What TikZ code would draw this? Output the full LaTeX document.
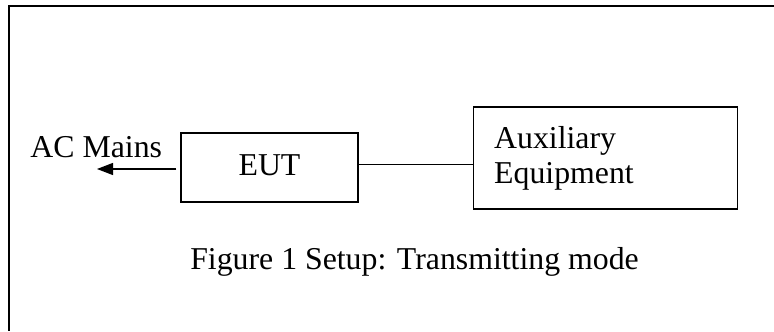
\documentclass[tikz,border=0pt]{standalone}
\usepackage{fontspec}
\setmainfont{Liberation Serif}
\usetikzlibrary{arrows.meta, positioning}

\begin{document}
\begin{tikzpicture}[x=0.5pt, y=-0.5pt, font=\fontsize{15.9pt}{17.5pt}\selectfont,
  unit/.style={draw, rectangle, line width=0.6pt},
  link/.style={line width=0.6pt},
  frame/.style={line width=1pt}]
  \useasboundingbox (0,0) rectangle (774,331);
  \draw[frame] (774,6) -- (9,6) -- (9,331);
  \node[unit, minimum width=88.5pt, minimum height=34.5pt, text depth=0.22em] (EUT) at (269.5,167.5) {EUT};
  \node[unit, minimum width=132pt, minimum height=51pt, text width=111pt, inner xsep=10.5pt, align=left,
        right=57pt of EUT, yshift=4.75pt] (aux) {Auxiliary\\Equipment};
  \node[anchor=base west, inner sep=0pt] (mains) at (30,158) {AC Mains};
  \coordinate (mainsend) at (97,169);
  \draw[link, -{Triangle[length=8pt, width=6pt]}, shorten <=2pt] (EUT.west |- mainsend) -- (mainsend);
  \draw[link] ([yshift=1.4pt]EUT.east) -- ([yshift=1.4pt]EUT.east -| aux.west);
  \node[anchor=base] (caption) at (414.5,269) {Figure 1 Setup: Transmitting mode};
\end{tikzpicture}
\end{document}
